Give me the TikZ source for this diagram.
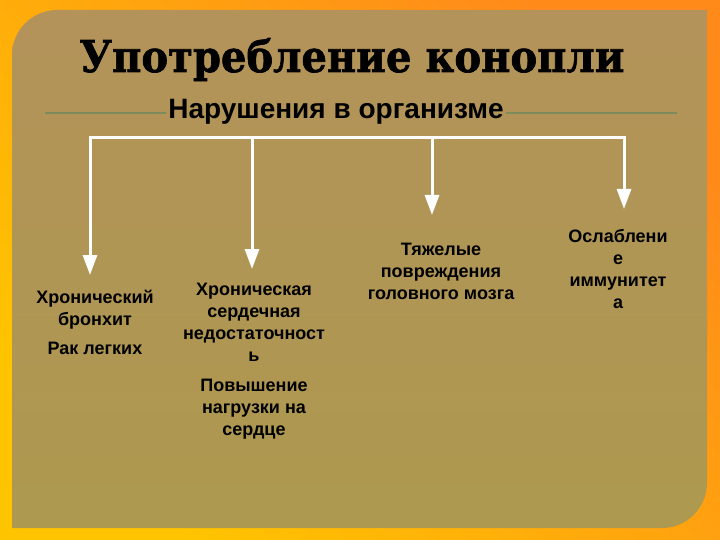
\documentclass[tikz,border=0pt]{standalone}
\usepackage{fontspec}
\setmainfont{Liberation Sans}
\newfontfamily\titlefont[BoldFeatures={FakeBold=1.5}]{DejaVu Serif}
\usetikzlibrary{arrows.meta}
\definecolor{bgYellow}{HTML}{FFC400}
\definecolor{bgOrange}{HTML}{FF8A1A}
\definecolor{panelTop}{HTML}{B3935A}
\definecolor{panelBot}{HTML}{AD994F}
\definecolor{ruleGreen}{HTML}{7D8A5A}
\tikzset{
  wline/.style={draw=white, line width=3pt},
  warrow/.style={wline, -{Triangle[width=14pt,length=20pt]}},
  effect/.style={font=\bfseries\fontsize{18}{22}\selectfont, align=center, anchor=north, inner sep=0pt, text=black},
}
\begin{document}
\begin{tikzpicture}[x=1pt,y=-1pt]
\useasboundingbox (0,0) rectangle (720,540);
\shade[top color=bgOrange, bottom color=bgYellow, shading angle=-45] (0,0) rectangle (720,540);
\shade[top color=panelTop, bottom color=panelBot]
  (12,528) -- (12,55) .. controls (12,30.2) and (32.2,10) .. (57,10)
  -- (707,10) -- (707,483) .. controls (707,507.8) and (686.8,528) .. (662,528) -- cycle;

\node[font=\titlefont\bfseries\fontsize{40}{48}\selectfont, anchor=base, inner sep=0pt] (title) at (352,72)
  {\resizebox{545pt}{34pt}{Употребление конопли}};

\node[font=\bfseries\fontsize{28}{32}\selectfont, anchor=base, inner sep=2pt] (sub) at (336,119) {Нарушения в организме};
\coordinate (gl) at (45,113);
\coordinate (gr) at (677,113);
\draw[ruleGreen, line width=2pt] (gl) -- (gl -| sub.west);
\draw[ruleGreen, line width=2pt] (sub.east |- gr) -- (gr);

\coordinate (b1) at (90,138);
\coordinate (b2) at (252,138);
\coordinate (b3) at (432,138);
\coordinate (b4) at (624,138);
\coordinate (t1) at (90,275);
\coordinate (t2) at (252,269);
\coordinate (t3) at (432,215);
\coordinate (t4) at (624,209);
\draw[wline, line cap=rect] (b1) -- (b4);
\draw[warrow] (b1) -- (t1);
\draw[warrow] (b2) -- (t2);
\draw[warrow] (b3) -- (t3);
\draw[warrow] (b4) -- (t4);

\node[effect] (n1) at (95,289.5) {Хронический\\бронхит\\[7pt]Рак легких};
\node[effect] (n2) at (254,282.5) {Хроническая\\сердечная\\недостаточност\\ь\\[8pt]Повышение\\нагрузки на\\сердце};
\node[effect] (n3) at (441,242.5) {Тяжелые\\повреждения\\головного мозга};
\node[effect] (n4) at (618,229.5) {Ослаблени\\е\\иммунитет\\а};
\end{tikzpicture}
\end{document}
